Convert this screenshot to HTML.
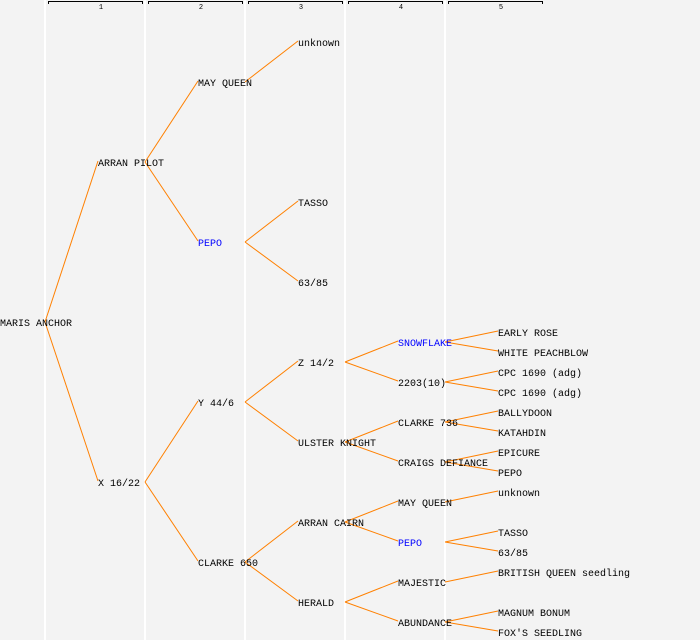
<!DOCTYPE html>
<html><head><meta charset="utf-8"><style>
html,body{margin:0;padding:0;background:#f3f3f3;}
svg{display:block;}
text{font-family:"Liberation Mono",monospace;font-size:10px;fill:#000;}
.b{fill:#0000ff;}
.n{font-size:7px;}
</style></head><body>
<svg width="700" height="640" xmlns="http://www.w3.org/2000/svg">
<rect width="700" height="640" fill="#f3f3f3"/>
<g stroke="#ffffff" stroke-width="2">
<line x1="45" y1="0" x2="45" y2="640"/><line x1="145" y1="0" x2="145" y2="640"/><line x1="245" y1="0" x2="245" y2="640"/><line x1="345" y1="0" x2="345" y2="640"/><line x1="445" y1="0" x2="445" y2="640"/>
</g>
<g stroke="#000" stroke-width="1" fill="none">
<path d="M48.5,4 V1.5 H142.5 V4"/><path d="M148.5,4 V1.5 H242.5 V4"/><path d="M248.5,4 V1.5 H342.5 V4"/><path d="M348.5,4 V1.5 H442.5 V4"/><path d="M448.5,4 V1.5 H542.5 V4"/>
</g>
<g class="n" text-anchor="middle">
<text class="n" x="101" y="9">1</text><text class="n" x="201" y="9">2</text><text class="n" x="301" y="9">3</text><text class="n" x="401" y="9">4</text><text class="n" x="501" y="9">5</text>
</g>
<g stroke="#ff8000" stroke-width="1" fill="none">
<line x1="45" y1="322" x2="98" y2="161"/><line x1="45" y1="322" x2="98" y2="481"/>
<line x1="145" y1="162" x2="198" y2="81"/><line x1="145" y1="162" x2="198" y2="241"/>
<line x1="145" y1="482" x2="198" y2="401"/><line x1="145" y1="482" x2="198" y2="561"/>
<line x1="245" y1="82" x2="298" y2="41"/>
<line x1="245" y1="242" x2="298" y2="201"/><line x1="245" y1="242" x2="298" y2="281"/>
<line x1="245" y1="402" x2="298" y2="361"/><line x1="245" y1="402" x2="298" y2="441"/>
<line x1="245" y1="562" x2="298" y2="521"/><line x1="245" y1="562" x2="298" y2="601"/>
<line x1="345" y1="362" x2="398" y2="341"/><line x1="345" y1="362" x2="398" y2="381"/>
<line x1="345" y1="442" x2="398" y2="421"/><line x1="345" y1="442" x2="398" y2="461"/>
<line x1="345" y1="522" x2="398" y2="501"/><line x1="345" y1="522" x2="398" y2="541"/>
<line x1="345" y1="602" x2="398" y2="581"/><line x1="345" y1="602" x2="398" y2="621"/>
<line x1="445" y1="342" x2="498" y2="331"/><line x1="445" y1="342" x2="498" y2="351"/>
<line x1="445" y1="382" x2="498" y2="371"/><line x1="445" y1="382" x2="498" y2="391"/>
<line x1="445" y1="422" x2="498" y2="411"/><line x1="445" y1="422" x2="498" y2="431"/>
<line x1="445" y1="462" x2="498" y2="451"/><line x1="445" y1="462" x2="498" y2="471"/>
<line x1="445" y1="502" x2="498" y2="491"/>
<line x1="445" y1="542" x2="498" y2="531"/><line x1="445" y1="542" x2="498" y2="551"/>
<line x1="445" y1="582" x2="498" y2="571"/>
<line x1="445" y1="622" x2="498" y2="611"/><line x1="445" y1="622" x2="498" y2="631"/>
</g>
<g>
<text x="0" y="326">MARIS ANCHOR</text>
<text x="98" y="166">ARRAN PILOT</text><text x="98" y="486">X 16/22</text>
<text x="198" y="86">MAY QUEEN</text><text class="b" x="198" y="246">PEPO</text><text x="198" y="406">Y 44/6</text><text x="198" y="566">CLARKE 650</text>
<text x="298" y="46">unknown</text><text x="298" y="206">TASSO</text><text x="298" y="286">63/85</text><text x="298" y="366">Z 14/2</text><text x="298" y="446">ULSTER KNIGHT</text><text x="298" y="526">ARRAN CAIRN</text><text x="298" y="606">HERALD</text>
<text class="b" x="398" y="346">SNOWFLAKE</text><text x="398" y="386">2203(10)</text><text x="398" y="426">CLARKE 736</text><text x="398" y="466">CRAIGS DEFIANCE</text><text x="398" y="506">MAY QUEEN</text><text class="b" x="398" y="546">PEPO</text><text x="398" y="586">MAJESTIC</text><text x="398" y="626">ABUNDANCE</text>
<text x="498" y="336">EARLY ROSE</text><text x="498" y="356">WHITE PEACHBLOW</text><text x="498" y="376">CPC 1690 (adg)</text><text x="498" y="396">CPC 1690 (adg)</text><text x="498" y="416">BALLYDOON</text><text x="498" y="436">KATAHDIN</text><text x="498" y="456">EPICURE</text><text x="498" y="476">PEPO</text><text x="498" y="496">unknown</text><text x="498" y="536">TASSO</text><text x="498" y="556">63/85</text><text x="498" y="576">BRITISH QUEEN seedling</text><text x="498" y="616">MAGNUM BONUM</text><text x="498" y="636">FOX'S SEEDLING</text>
</g>
</svg>
</body></html>
